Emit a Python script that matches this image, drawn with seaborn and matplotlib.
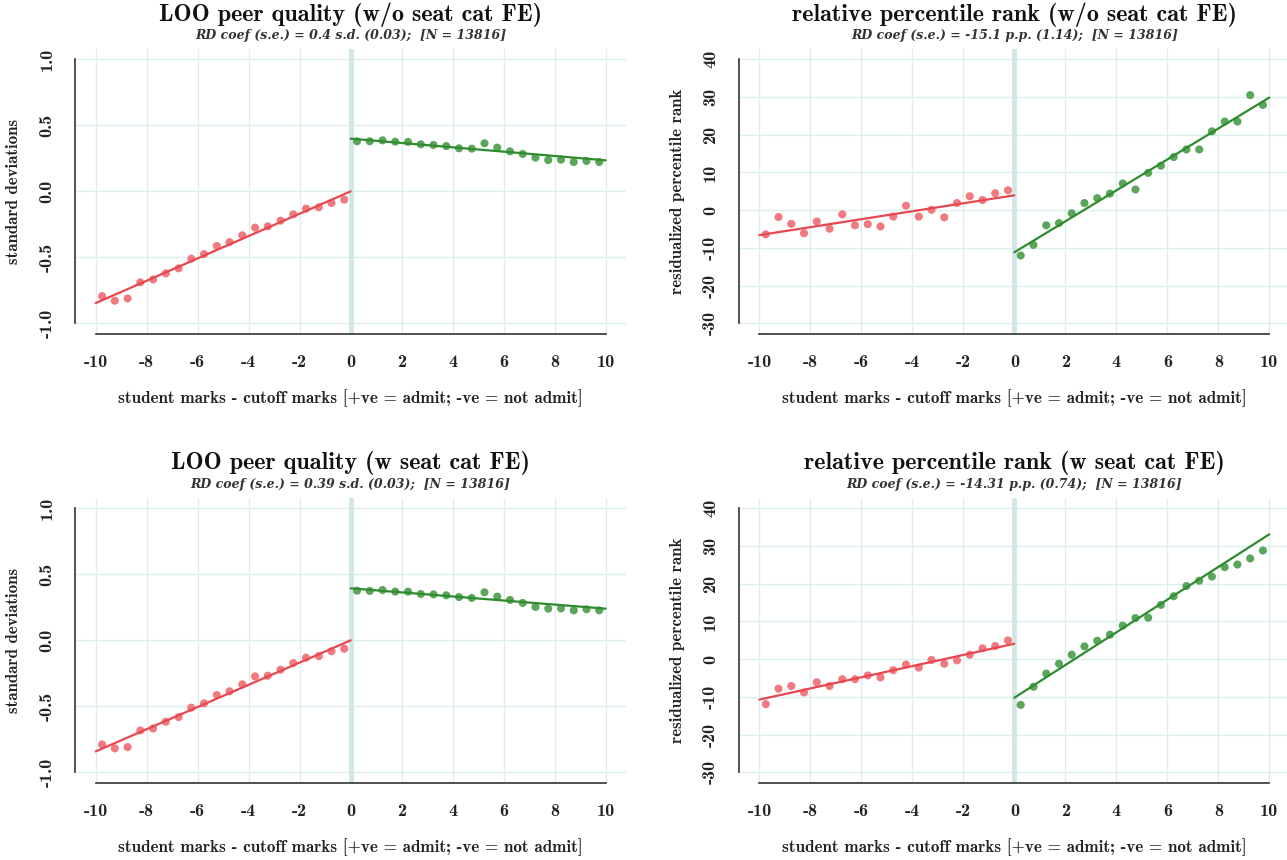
import numpy as np
import pandas as pd
import matplotlib
matplotlib.use("Agg")
import matplotlib.pyplot as plt
import seaborn as sns

# ---------------- data ----------------
bins_left = [-9.75, -9.25, -8.75, -8.25, -7.75, -7.25, -6.75, -6.25, -5.75, -5.25,
             -4.75, -4.25, -3.75, -3.25, -2.75, -2.25, -1.75, -1.25, -0.75, -0.25]
bins_right = [0.25, 0.75, 1.25, 1.75, 2.25, 2.75, 3.25, 3.75, 4.25, 4.75,
              5.25, 5.75, 6.25, 6.75, 7.25, 7.75, 8.25, 8.75, 9.25, 9.75]

# LOO peer quality (w/o seat cat FE)
peer_wo_left = [-0.793, -0.828, -0.811, -0.689, -0.667, -0.621, -0.583, -0.510, -0.475, -0.414,
                -0.384, -0.333, -0.275, -0.265, -0.222, -0.174, -0.131, -0.121, -0.088, -0.063]
peer_wo_right = [0.379, 0.379, 0.386, 0.376, 0.374, 0.356, 0.351, 0.343, 0.326, 0.323,
                 0.364, 0.331, 0.303, 0.283, 0.255, 0.237, 0.240, 0.222, 0.230, 0.222]
peer_wo_fit = {"left": (0.0, 0.0846), "right": (0.399, -0.0164)}

# relative percentile rank (w/o seat cat FE)
rank_wo_left = [-6.4, -1.8, -3.6, -6.1, -3.0, -4.9, -1.1, -4.0, -3.7, -4.3,
                -1.7, 1.2, -1.7, 0.1, -1.9, 1.9, 3.7, 2.7, 4.5, 5.3]
rank_wo_right = [-12.0, -9.2, -4.0, -3.4, -0.8, 1.9, 3.2, 4.4, 7.1, 5.5,
                 9.9, 11.8, 14.1, 16.1, 16.1, 20.9, 23.5, 23.5, 30.5, 27.9]
rank_wo_fit = {"left": (3.95, 1.055), "right": (-11.15, 4.1)}

# LOO peer quality (w seat cat FE)
peer_w_left = [-0.788, -0.818, -0.808, -0.682, -0.667, -0.616, -0.581, -0.510, -0.477, -0.414,
               -0.386, -0.333, -0.273, -0.268, -0.222, -0.172, -0.131, -0.119, -0.083, -0.063]
peer_w_right = [0.376, 0.374, 0.381, 0.369, 0.369, 0.351, 0.348, 0.341, 0.328, 0.321,
                0.364, 0.331, 0.306, 0.283, 0.253, 0.240, 0.242, 0.227, 0.235, 0.227]
peer_w_fit = {"left": (0.0, 0.0841), "right": (0.394, -0.0154)}

# relative percentile rank (w seat cat FE)
rank_w_left = [-11.9, -7.8, -7.1, -8.8, -6.1, -7.1, -5.3, -5.3, -4.3, -4.8,
               -2.9, -1.4, -2.2, -0.2, -1.2, -0.3, 1.2, 2.9, 3.5, 5.0]
rank_w_right = [-12.1, -7.3, -3.8, -1.2, 1.2, 3.4, 4.9, 6.5, 8.9, 10.9,
                11.0, 14.4, 16.7, 19.4, 20.8, 21.9, 24.4, 25.1, 26.7, 28.8]
rank_w_fit = {"left": (4.1, 1.48), "right": (-10.2, 4.33)}

x_ticks = [-10, -8, -6, -4, -2, 0, 2, 4, 6, 8, 10]
x_ticklabels = ["-10", "-8", "-6", "-4", "-2", "0", "2", "4", "6", "8", "10"]
peer_ticks = [-1.0, -0.5, 0.0, 0.5, 1.0]
peer_ticklabels = ["-1.0", "-0.5", "0.0", "0.5", "1.0"]
rank_ticks = [-30, -20, -10, 0, 10, 20, 30, 40]
rank_ticklabels = ["-30", "-20", "-10", "0", "10", "20", "30", "40"]

titles = ["LOO peer quality (w/o seat cat FE)", "relative percentile rank (w/o seat cat FE)",
          "LOO peer quality (w seat cat FE)", "relative percentile rank (w seat cat FE)"]
subtitles = ["RD coef (s.e.) = 0.4 s.d. (0.03);  [N = 13816]",
             "RD coef (s.e.) = -15.1 p.p. (1.14);  [N = 13816]",
             "RD coef (s.e.) = 0.39 s.d. (0.03);  [N = 13816]",
             "RD coef (s.e.) = -14.31 p.p. (0.74);  [N = 13816]"]
xlabel = "student marks - cutoff marks [+ve = admit; -ve = not admit]"
ylabels = ["standard deviations", "residualized percentile rank"]

# ---------------- style ----------------
sns.set_style("white")
plt.rcParams["font.family"] = ["cmb10", "DejaVu Serif"]
plt.rcParams["axes.unicode_minus"] = False

RED_PT = "#F07A80"
RED_LN = "#E8474F"
GRN_PT = "#5CA65C"
GRN_LN = "#2E8B2E"
GRID = "#DDEEEE"
ZERO = "#D2E6E6"
SPINE = "#333333"

W, H = 1287, 860
fig = plt.figure(figsize=(W / 100, H / 100), dpi=100)

panel_px = [  # left, top, right, bottom in pixels
    (75.3, 48.7, 626.0, 334.0),
    (739.0, 48.7, 1289.7, 334.0),
    (75.3, 497.7, 626.0, 783.0),
    (739.0, 497.7, 1289.7, 783.0),
]

panels = [
    (peer_wo_left, peer_wo_right, peer_wo_fit, "peer"),
    (rank_wo_left, rank_wo_right, rank_wo_fit, "rank"),
    (peer_w_left, peer_w_right, peer_w_fit, "peer"),
    (rank_w_left, rank_w_right, rank_w_fit, "rank"),
]

for i, ((yl, yr, fit, kind), (l, t, r, b)) in enumerate(zip(panels, panel_px)):
    ax = fig.add_axes([l / W, (H - b) / H, (r - l) / W, (b - t) / H])
    if kind == "peer":
        yt, ytl = peer_ticks, peer_ticklabels
    else:
        yt, ytl = rank_ticks, rank_ticklabels
    ymin, ymax = yt[0], yt[-1]
    yexp = 0.04 * (ymax - ymin)

    # grid and cutoff line
    for xv in x_ticks:
        ax.axvline(xv, color=GRID, lw=1.0, zorder=0)
    for yv in yt:
        ax.axhline(yv, color=GRID, lw=1.0, zorder=0)
    ax.axvline(0, color=ZERO, lw=3.5, zorder=0.5)

    df = pd.DataFrame({
        "x": bins_left + bins_right,
        "y": yl + yr,
        "side": ["left"] * len(bins_left) + ["right"] * len(bins_right),
    })
    sns.scatterplot(data=df, x="x", y="y", hue="side",
                    palette={"left": RED_PT, "right": GRN_PT},
                    s=34, linewidth=0, legend=False, ax=ax, zorder=3)

    xs_left = np.array([-10.0, 0.0])
    xs_right = np.array([0.0, 10.0])
    a, s = fit["left"]
    fl = pd.DataFrame({"x": xs_left, "y": a + s * xs_left})
    a, s = fit["right"]
    fr = pd.DataFrame({"x": xs_right, "y": a + s * xs_right})
    sns.lineplot(data=fl, x="x", y="y", color=RED_LN, lw=1.6, ax=ax, zorder=4)
    sns.lineplot(data=fr, x="x", y="y", color=GRN_LN, lw=1.6, ax=ax, zorder=4)

    ax.set_xlim(-10.8, 10.8)
    ax.set_ylim(ymin - yexp, ymax + yexp)
    ax.set_xticks(x_ticks, x_ticklabels)
    ax.set_yticks(yt, ytl)

    # axes styling (R base style, detached spines)
    for sp in ["top", "right"]:
        ax.spines[sp].set_visible(False)
    for sp in ["left", "bottom"]:
        ax.spines[sp].set_color(SPINE)
        ax.spines[sp].set_linewidth(1.2)

    ax.tick_params(axis="x", direction="out", length=7, width=1.2, color=SPINE,
                   pad=8, labelsize=13, labelcolor="#222222")
    ax.tick_params(axis="y", direction="out", length=7, width=1.2, color=SPINE,
                   pad=8, labelsize=13, labelcolor="#222222")
    for lab in ax.get_yticklabels():
        lab.set_rotation(90)
        lab.set_va("center")

    ax.set_xlabel(xlabel, fontsize=12.3, color="#222222")
    ax.xaxis.set_label_coords(0.5, -0.224)
    ax.xaxis.label.set_va("center")
    ax.set_ylabel(ylabels[0] if kind == "peer" else ylabels[1], fontsize=12.2, color="#222222")
    ax.yaxis.set_label_coords(-0.112, 0.5)
    ax.yaxis.label.set_va("center")

    ax.set_title(titles[i], fontsize=17.4, y=1.12, pad=0, va="center", color="#111111")
    ax.text(0.5, 1.047, subtitles[i], transform=ax.transAxes, ha="center", va="center",
            fontsize=9, fontstyle="italic", fontweight="bold",
            family=["DejaVu Serif"], color="#333333")

    ax.spines["left"].set_bounds(ymin, ymax)
    ax.spines["bottom"].set_bounds(x_ticks[0], x_ticks[-1])

fig.savefig("out.png", dpi=100)
